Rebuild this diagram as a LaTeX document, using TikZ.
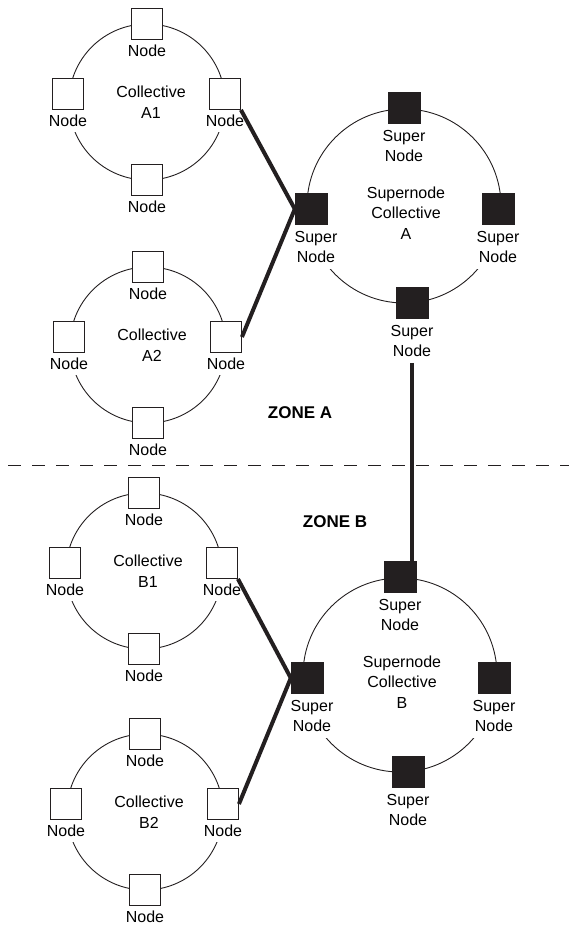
\documentclass[tikz,border=0pt]{standalone}
\usepackage{fontspec}
\setmainfont{Liberation Sans}
\usetikzlibrary{positioning}

\definecolor{ink}{RGB}{35,31,32}

\tikzset{
  ring/.style={draw=ink, line width=0.9pt},
  plainnode/.style={draw=ink, fill=white, line width=0.9pt, minimum size=31pt, inner sep=0pt},
  supernode/.style={draw=ink, fill=ink, minimum size=32pt, inner sep=0pt},
  tag/.style={fill=white, inner xsep=1pt, inner ysep=5pt, align=center,
    font=\fontsize{16}{20}\selectfont},
  ringtext/.style={align=center, font=\fontsize{16}{20.5}\selectfont},
  link/.style={draw=ink, line width=4pt},
  zone/.style={font=\fontsize{17}{20}\selectfont\bfseries},
  border/.style={draw=ink, line width=0.9pt, dash pattern=on 13pt off 11pt}
}

\begin{document}
\begin{tikzpicture}[x=1pt, y=-1pt]
    \useasboundingbox (0,0) rectangle (569,925);

    % the four plain collectives
    \foreach \id/\cx/\cy/\txt in {a1/147/102/A1, a2/148/345/A2, b1/144/571/B1, b2/145/812/B2}{
        \draw[ring] (\cx,\cy) circle[radius=78pt];
        \node[plainnode] (\id-t) at (\cx,\cy-78) {};
        \node[plainnode] (\id-l) at (\cx-79,\cy-8) {};
        \node[plainnode] (\id-r) at (\cx+78,\cy-8) {};
        \node[plainnode] (\id-b) at (\cx,\cy+78) {};
        \node[tag, below=0pt of \id-t] (\id-tl) {Node};
        \node[tag, below=0pt of \id-l] (\id-ll) {Node};
        \node[tag, below=0pt of \id-r] (\id-rl) {Node};
        \node[tag, below=0pt of \id-b] (\id-bl) {Node};
        \node[ringtext] (\id-c) at (\cx+4,\cy) {Collective\\\txt};
    }

    % the two supernode collectives
    \foreach \id/\cx/\cy/\txt in {sna/404/206/A, snb/400/675/B}{
        \draw[ring] (\cx,\cy) circle[radius=97pt];
        \node[supernode] (\id-t) at (\cx,\cy-98) {};
        \node[supernode] (\id-l) at (\cx-93,\cy+3) {};
        \node[supernode] (\id-r) at (\cx+94,\cy+3) {};
        \node[supernode] (\id-b) at (\cx+8,\cy+97) {};
        \node[tag, inner ysep=6pt, below=0pt of \id-t] (\id-tl) {Super\\Node};
        \node[tag, inner ysep=6pt, below=0pt of \id-l, xshift=5pt] (\id-ll) {Super\\Node};
        \node[tag, inner ysep=6pt, below=0pt of \id-r] (\id-rl) {Super\\Node};
        \node[tag, inner ysep=6pt, below=0pt of \id-b] (\id-bl) {Super\\Node};
        \node[ringtext] (\id-c) at (\cx+2,\cy+7) {Supernode\\Collective\\\txt};
    }

    % links between the collectives
    \draw[link] (a1-r.south east) -- (sna-l.west);
    \draw[link] (a2-r.east) -- (sna-l.west);
    \draw[link] (b1-r.south east) -- (snb-l.west);
    \draw[link] (b2-r.east) -- (snb-l.west);
    \draw[link] (sna-bl.south -| sna-b) -- (sna-b |- snb-t.north);

    % zones
    \draw[border] (8,465) -- (569,465);
    \node[zone] (zonea) at (300,413) {ZONE A};
    \node[zone] (zoneb) at (335,522) {ZONE B};
\end{tikzpicture}
\end{document}
